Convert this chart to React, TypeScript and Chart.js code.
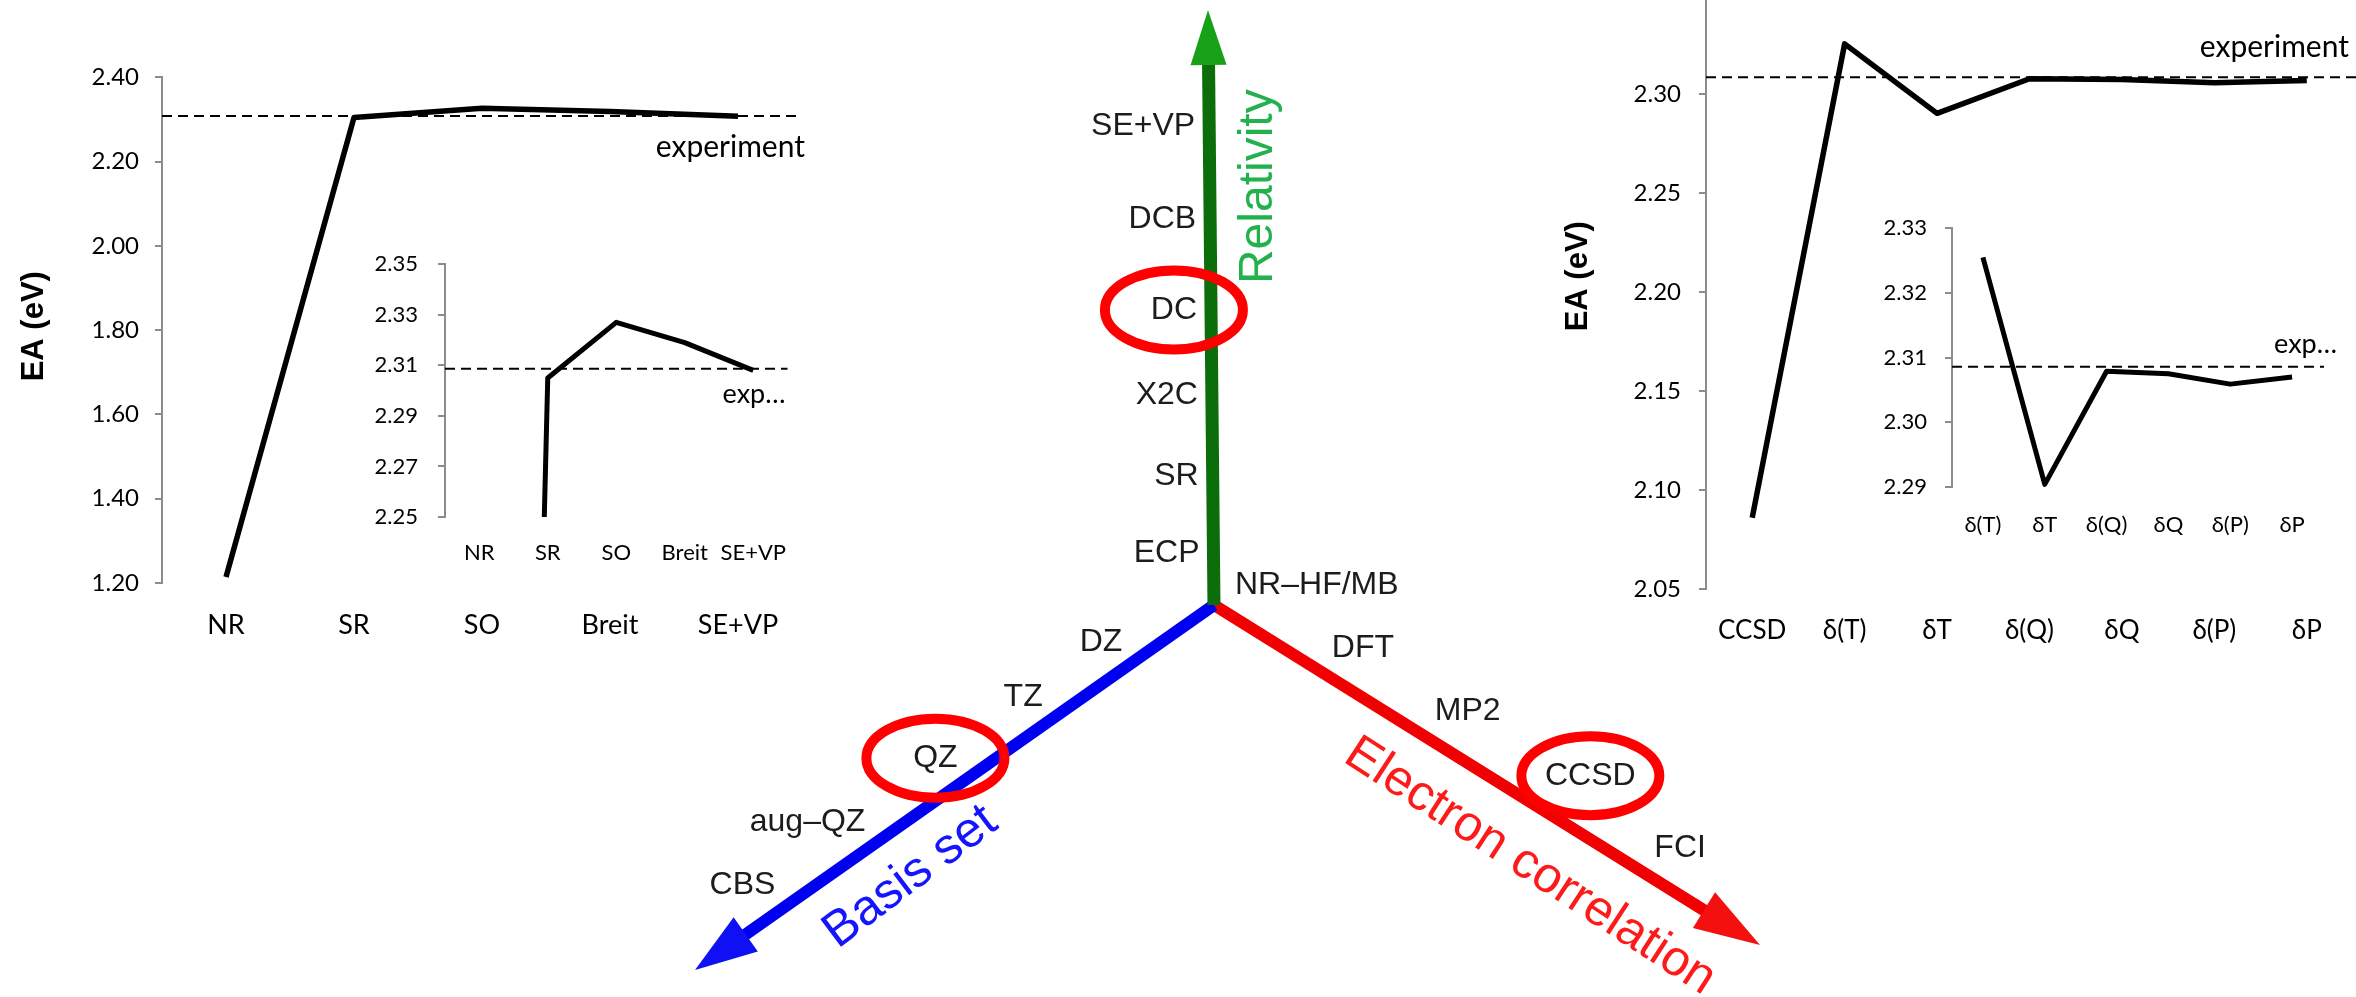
import React, { useEffect, useRef } from "react";
import { Chart, registerables } from "chart.js";
Chart.register(...registerables);

// ---------------- data ----------------
// Left: relativistic convergence of the electron affinity (eV)
const relativityCategories = ["NR", "SR", "SO", "Breit", "SE+VP"];
const relativityEA = [1.214, 2.305, 2.327, 2.319, 2.308];
// Right: correlation convergence of the electron affinity (eV)
const correlationCategories = ["CCSD", "δ(T)", "δT", "δ(Q)", "δQ", "δ(P)", "δP"];
const correlationEA = [2.086, 2.3255, 2.2904, 2.3079, 2.3075, 2.3059, 2.307];
const correlationInsetCategories = correlationCategories.slice(1);
const correlationInsetEA = correlationEA.slice(1);
const experimentEA = 2.3086;

// y ranges: [min, max, step]
const relMainRange = [1.2, 2.4, 0.2];
const relInsetRange = [2.25, 2.35, 0.02];
const corrMainRange = [2.05, 2.35, 0.05];
const corrInsetRange = [2.29, 2.33, 0.01];

// 3-D scheme: levels along each axis and their relative position on the axis
const relativityLevels = ["ECP", "SR", "X2C", "DC", "DCB", "SE+VP"];
const relativityLevelPos = [0.087, 0.217, 0.353, 0.496, 0.649, 0.805];
const basisLevels = ["DZ", "TZ", "QZ", "aug–QZ", "CBS"];
const basisLevelPos = [0.179, 0.33, 0.498, 0.721, 0.862];
const correlationLevels = ["DFT", "MP2", "CCSD", "FCI"];
const correlationLevelPos = [0.232, 0.422, 0.637, 0.815];
const chosenLevels = ["DC", "QZ", "CCSD"];
const originLabel = "NR–HF/MB";
const axisTitles = ["Relativity", "Basis set", "Electron correlation"];

// ---------------- layout (not data) ----------------
const SANS = '"Liberation Sans", Arial, sans-serif';
const CAL = 'Lato, "Open Sans", "DejaVu Sans", sans-serif';
const schemeTips = { rel: [-0.12, 11.9], basis: [-10.38, -7.3], corr: [10.92, -6.8] };
const basisLabelOffsets = [35, 34, 35, 56, 42];
const correlationLabelOffsets = [42, 44, 54, 40];

type LineCfg = {
  labels: string[];
  values: number[];
  range: number[];
  plot: { l: number; t: number; r: number; b: number };
  axisW: number; xH: number; padT: number; padR: number;
  tickFont: number; catFont: number; yPad: number; xPad: number;
  lineW: number; clip?: number; hideTopTick?: boolean;
  expLabel: string; expFont: number; expDx: number; expDy: number; expExtend: number;
  title?: string; titleDx?: number; titleDy?: number;
};

const expPlugin = {
  id: "expLine",
  beforeDatasetsDraw(chart: any, _a: any, o: any) {
    const { ctx, chartArea, scales } = chart;
    const py = scales.y.getPixelForValue(o.value);
    ctx.save();
    ctx.strokeStyle = "#000";
    ctx.lineWidth = 2;
    ctx.setLineDash([10, 6]);
    ctx.beginPath();
    ctx.moveTo(chartArea.left, py);
    ctx.lineTo(chartArea.right + o.extend, py);
    ctx.stroke();
    ctx.restore();
  },
  afterDatasetsDraw(chart: any, _a: any, o: any) {
    const { ctx, chartArea, scales } = chart;
    const py = scales.y.getPixelForValue(o.value);
    ctx.save();
    ctx.fillStyle = "#000";
    ctx.font = `${o.font}px ${CAL}`;
    ctx.textAlign = "right";
    ctx.textBaseline = "middle";
    ctx.fillText(o.label, chartArea.right + o.dx, py + o.dy);
    if (o.title) {
      ctx.translate(chartArea.left + o.titleDx, (chartArea.top + chartArea.bottom) / 2 + o.titleDy);
      ctx.rotate(-Math.PI / 2);
      ctx.font = `bold 31px ${SANS}`;
      ctx.textAlign = "center";
      ctx.fillText(o.title, 0, 0);
    }
    ctx.restore();
  },
};

function LineChartBox({ cfg }: { cfg: LineCfg }) {
  const ref = useRef<HTMLCanvasElement>(null);
  const left = cfg.plot.l - cfg.axisW;
  const top = cfg.plot.t - cfg.padT;
  const width = cfg.axisW + (cfg.plot.r - cfg.plot.l) + cfg.padR;
  const height = cfg.padT + (cfg.plot.b - cfg.plot.t) + cfg.xH;
  useEffect(() => {
    const chart = new Chart(ref.current as HTMLCanvasElement, {
      type: "line",
      data: {
        labels: cfg.labels,
        datasets: [
          {
            data: cfg.values,
            borderColor: "#000",
            borderWidth: cfg.lineW,
            pointRadius: 0,
            tension: 0,
            fill: false,
            borderJoinStyle: "round",
            borderCapStyle: "butt",
            ...(cfg.clip !== undefined ? { clip: cfg.clip } : {}),
          } as any,
        ],
      },
      options: {
        responsive: false,
        animation: false,
        devicePixelRatio: 1,
        layout: { padding: { top: cfg.padT, right: cfg.padR, left: 0, bottom: 0 } },
        plugins: {
          legend: { display: false },
          tooltip: { enabled: false },
          expLine: {
            value: experimentEA,
            label: cfg.expLabel,
            font: cfg.expFont,
            dx: cfg.expDx,
            dy: cfg.expDy,
            extend: cfg.expExtend,
            title: cfg.title,
            titleDx: cfg.titleDx,
            titleDy: cfg.titleDy,
          },
        } as any,
        scales: {
          x: {
            type: "category",
            offset: true,
            grid: { display: false, drawTicks: false },
            border: { display: false },
            ticks: {
              font: { family: CAL, size: cfg.catFont },
              color: "#000",
              padding: cfg.xPad,
              autoSkip: false,
              maxRotation: 0,
              minRotation: 0,
            },
            afterFit: (s: any) => { s.height = cfg.xH; },
          },
          y: {
            type: "linear",
            min: cfg.range[0],
            max: cfg.range[1],
            grid: { display: true, drawOnChartArea: false, drawTicks: true, tickLength: 7, color: "#8c8c8c", lineWidth: 2 },
            border: { display: true, color: "#8c8c8c", width: 2 },
            ticks: {
              stepSize: cfg.range[2],
              font: { family: CAL, size: cfg.tickFont },
              color: "#000",
              padding: cfg.yPad,
              callback: (v: any) =>
                cfg.hideTopTick && Math.abs(Number(v) - cfg.range[1]) < 1e-9 ? "" : Number(v).toFixed(2),
            },
            afterFit: (s: any) => { s.width = cfg.axisW; },
          },
        } as any,
      },
      plugins: [expPlugin as any],
    });
    return () => chart.destroy();
  }, []);
  return (
    <canvas ref={ref} width={width} height={height}
      style={{ position: "absolute", left, top, width, height }} />
  );
}

const schemePlugin = {
  id: "scheme",
  afterDatasetsDraw(chart: any) {
    const { ctx, scales } = chart;
    const xs = scales.x, ys = scales.y;
    const P = (p: number[]) => ({ x: xs.getPixelForValue(p[0]), y: ys.getPixelForValue(p[1]) });
    const O = P([0, 0]);
    const axes = [
      { tip: P(schemeTips.rel), head: 55, half: 18, color: "#19a019" },
      { tip: P(schemeTips.basis), head: 62, half: 21, color: "#1010f5" },
      { tip: P(schemeTips.corr), head: 66, half: 21, color: "#f51010" },
    ];
    ctx.save();
    // arrow heads
    for (const a of axes) {
      const dx = a.tip.x - O.x, dy = a.tip.y - O.y;
      const len = Math.hypot(dx, dy);
      const ux = dx / len, uy = dy / len;
      const bx = a.tip.x - ux * a.head, by = a.tip.y - uy * a.head;
      ctx.fillStyle = a.color;
      ctx.beginPath();
      ctx.moveTo(a.tip.x, a.tip.y);
      ctx.lineTo(bx - uy * a.half, by + ux * a.half);
      ctx.lineTo(bx + uy * a.half, by - ux * a.half);
      ctx.closePath();
      ctx.fill();
    }
    const at = (tip: any, t: number) => ({ x: O.x + (tip.x - O.x) * t, y: O.y + (tip.y - O.y) * t });
    const unit = (tip: any) => {
      const dx = tip.x - O.x, dy = tip.y - O.y;
      const l = Math.hypot(dx, dy);
      return { x: dx / l, y: dy / l };
    };
    ctx.fillStyle = "#1c1c1c";
    ctx.font = `32px ${SANS}`;
    ctx.textBaseline = "middle";
    const centers: Record<string, { x: number; y: number }> = {};
    // relativity labels (left of the vertical axis)
    ctx.textAlign = "right";
    relativityLevels.forEach((name, i) => {
      const p = at(axes[0].tip, relativityLevelPos[i]);
      const rx = p.x - 14;
      ctx.fillText(name, rx, p.y);
      centers[name] = { x: rx - ctx.measureText(name).width / 2, y: p.y };
    });
    // basis labels (upper-left side)
    ctx.textAlign = "center";
    const ub = unit(axes[1].tip);
    const nb = { x: -Math.abs(ub.y), y: -Math.abs(ub.x) };
    basisLevels.forEach((name, i) => {
      const p = at(axes[1].tip, basisLevelPos[i]);
      const c = { x: p.x + nb.x * basisLabelOffsets[i], y: p.y + nb.y * basisLabelOffsets[i] };
      ctx.fillText(name, c.x, c.y);
      centers[name] = c;
    });
    const uc = unit(axes[2].tip);
    const nc = { x: Math.abs(uc.y), y: -Math.abs(uc.x) };
    correlationLevels.forEach((name, i) => {
      const p = at(axes[2].tip, correlationLevelPos[i]);
      const c = { x: p.x + nc.x * correlationLabelOffsets[i], y: p.y + nc.y * correlationLabelOffsets[i] };
      ctx.fillText(name, c.x, c.y);
      centers[name] = c;
    });
    ctx.textAlign = "left";
    ctx.fillText(originLabel, O.x + 21, O.y - 20);

    // axis titles
    ctx.save();
    const pr = at(axes[0].tip, 0.703);
    ctx.translate(pr.x + 62, pr.y);
    ctx.rotate(-Math.PI / 2);
    ctx.fillStyle = "#22b14c";
    ctx.font = `48px ${SANS}`;
    ctx.textAlign = "center";
    ctx.textBaseline = "alphabetic";
    ctx.fillText(axisTitles[0], 0, 0);
    ctx.restore();

    ctx.save();
    const pb = at(axes[1].tip, 0.638);
    ctx.translate(pb.x - nb.x * 48, pb.y - nb.y * 48);
    ctx.rotate((-37 * Math.PI) / 180);
    ctx.fillStyle = "#1414ff";
    ctx.font = `50px ${SANS}`;
    ctx.textAlign = "center";
    ctx.textBaseline = "middle";
    ctx.fillText(axisTitles[1], 0, 0);
    ctx.restore();

    ctx.save();
    const pc = at(axes[2].tip, 0.632);
    ctx.translate(pc.x - nc.x * 55, pc.y - nc.y * 55);
    ctx.rotate((33 * Math.PI) / 180);
    ctx.fillStyle = "#ff1a1a";
    ctx.font = `50px ${SANS}`;
    ctx.textAlign = "center";
    ctx.textBaseline = "middle";
    ctx.fillText(axisTitles[2], 0, 0);
    ctx.restore();

    // selected-level ellipses
    ctx.strokeStyle = "#ff0000";
    ctx.lineWidth = 10;
    for (const name of chosenLevels) {
      const c = centers[name];
      if (!c) continue;
      ctx.beginPath();
      ctx.ellipse(c.x, c.y, 69, 39.5, 0, 0, Math.PI * 2);
      ctx.stroke();
    }
    ctx.restore();
  },
};

function SchemeChart() {
  const ref = useRef<HTMLCanvasElement>(null);
  const left = 664, top = 5, width = 1200, height = 1000;
  useEffect(() => {
    const shaftEnd = (tip: number[], headUnits: number) => {
      const l = Math.hypot(tip[0], tip[1]);
      return { x: tip[0] - (tip[0] / l) * headUnits, y: tip[1] - (tip[1] / l) * headUnits };
    };
    const chart = new Chart(ref.current as HTMLCanvasElement, {
      type: "scatter",
      data: {
        datasets: [
          { data: [{ x: 0, y: 0 }, shaftEnd(schemeTips.rel, 1.0)], borderColor: "#0b6e0b", borderWidth: 13 },
          { data: [{ x: 0, y: 0 }, shaftEnd(schemeTips.basis, 1.1)], borderColor: "#0000f0", borderWidth: 12 },
          { data: [{ x: 0, y: 0 }, shaftEnd(schemeTips.corr, 1.2)], borderColor: "#f00000", borderWidth: 12 },
        ].map((d) => ({ ...d, showLine: true, pointRadius: 0, borderCapStyle: "butt", clip: false })) as any,
      },
      options: {
        responsive: false,
        animation: false,
        devicePixelRatio: 1,
        layout: { padding: 0 },
        plugins: { legend: { display: false }, tooltip: { enabled: false } },
        scales: {
          x: { type: "linear", min: -11, max: 13, display: false },
          y: { type: "linear", min: -8, max: 12, display: false },
        },
      },
      plugins: [schemePlugin as any],
    });
    return () => chart.destroy();
  }, []);
  return (
    <canvas ref={ref} width={width} height={height}
      style={{ position: "absolute", left, top, width, height }} />
  );
}

const leftMain: LineCfg = {
  labels: relativityCategories, values: relativityEA, range: relMainRange,
  plot: { l: 162, t: 77, r: 802, b: 583 },
  axisW: 150, xH: 80, padT: 30, padR: 12,
  tickFont: 24, catFont: 27, yPad: 16, xPad: 26, lineW: 5.5,
  expLabel: "experiment", expFont: 30, expDx: 3, expDy: 31, expExtend: -2,
  title: "EA (eV)", titleDx: -128, titleDy: -4,
};
const leftInset: LineCfg = {
  labels: relativityCategories, values: relativityEA, range: relInsetRange,
  plot: { l: 445, t: 256, r: 800, b: 517 },
  axisW: 90, xH: 60, padT: 25, padR: 10,
  tickFont: 22, catFont: 22, yPad: 20, xPad: 23, lineW: 5, clip: 0,
  expLabel: "exp…", expFont: 27, expDx: -2, expDy: 25, expExtend: 0,
};
const rightMain: LineCfg = {
  labels: correlationCategories, values: correlationEA, range: corrMainRange,
  plot: { l: 1706, t: -12, r: 2353, b: 589 },
  axisW: 150, xH: 70, padT: 25, padR: 3, hideTopTick: true,
  tickFont: 24, catFont: 26, yPad: 18, xPad: 26, lineW: 5.5,
  expLabel: "experiment", expFont: 30, expDx: -4, expDy: -30, expExtend: 3,
  title: "EA (eV)", titleDx: -128, titleDy: -16,
};
const rightInset: LineCfg = {
  labels: correlationInsetCategories, values: correlationInsetEA, range: corrInsetRange,
  plot: { l: 1952, t: 222, r: 2323, b: 487 },
  axisW: 90, xH: 60, padT: 25, padR: 25,
  tickFont: 22, catFont: 22, yPad: 18, xPad: 25, lineW: 5, clip: 0,
  expLabel: "exp…", expFont: 27, expDx: 14, expDy: -22, expExtend: 1,
};

export default function App() {
  return (
    <div style={{ position: "fixed", left: 0, top: 0, width: 2356, height: 997, overflow: "hidden", background: "#fff" }}>
      <SchemeChart />
      <LineChartBox cfg={leftMain} />
      <LineChartBox cfg={leftInset} />
      <LineChartBox cfg={rightMain} />
      <LineChartBox cfg={rightInset} />
    </div>
  );
}
